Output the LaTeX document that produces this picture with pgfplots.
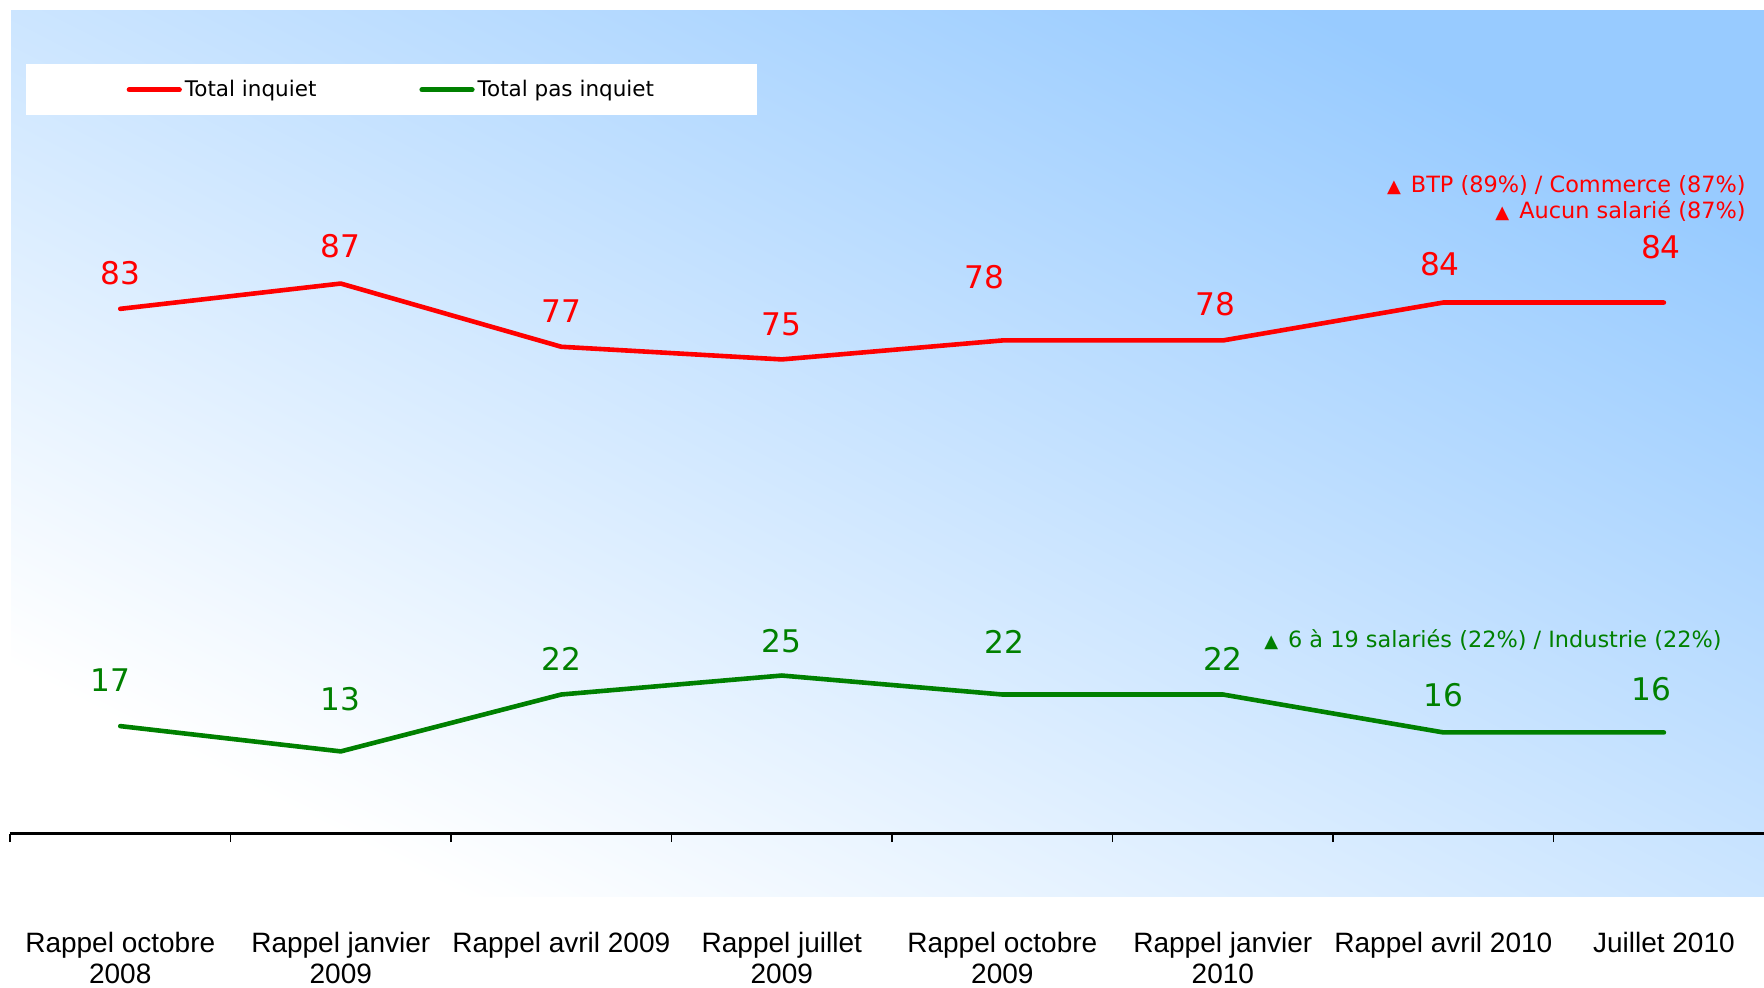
\documentclass[border=0pt]{standalone}
\usepackage{pgfplots}
\pgfplotsset{compat=1.18}
\usepackage{pgfplotstable}
\usepackage{fontspec}
\setmainfont{DejaVu Sans}
\newfontfamily\lab{Liberation Sans}
\definecolor{myred}{RGB}{255,0,0}
\definecolor{mygreen}{RGB}{0,128,0}
\definecolor{bgtop}{RGB}{152,203,255}

\pgfplotstableread{
x y dx dy
0 83 0 18
1 87 0 18.6
2 77 0 18
3 75 0 17.4
4 78 -9 31.5
5 78 -3.9 18
6 84 -1.7 19.1
7 84 -1.5 27.5
}\redtab
\pgfplotstableread{
x y dx dy
0 17 -4.8 23
1 13 0 25.9
2 22 0 18
3 25 0 17.4
4 22 1.1 26.4
5 22 0 18
6 16 0 18.6
7 16 -6.2 21.7
}\greentab

\begin{document}
\begin{tikzpicture}
\useasboundingbox (0,0) rectangle (882pt,494pt);
\shade[shading=axis, bottom color=white, top color=bgtop, shading angle=-27] (5.5pt,45.5pt) rectangle (882pt,488.5pt);
\begin{axis}[
  at={(5pt,77.2pt)}, anchor=south west,
  scale only axis, width=877pt, height=410.95pt,
  xmin=-0.5, xmax=7.454, ymin=0, ymax=130,
  clip=false,
  axis x line=bottom, axis y line=none,
  x axis line style={-, line width=1.1pt, black},
  xtick={0,...,7},
  xticklabels={{Rappel octobre\\2008},{Rappel janvier\\2009},{Rappel avril 2009},{Rappel juillet\\2009},{Rappel octobre\\2009},{Rappel janvier\\2010},{Rappel avril 2010},{Juillet 2010}},
  major tick length=0pt,
  minor xtick={-0.5,0.5,...,6.5},
  minor tick length=4.3pt,
  xtick align=outside,
  minor x tick style={line width=0.8pt, black},
  xticklabel style={font=\lab\fontsize{14}{15.75}\selectfont, align=center, anchor=north, inner sep=0pt, yshift=-49pt, text=black},
  /pgf/number format/assume math mode=true,
  legend columns=2,
  legend style={at={(axis description cs:0.0091,0.9364)}, anchor=north west, draw=none, fill=white,
    minimum width=365.5pt, minimum height=25.5pt, font=\fontsize{10.75}{12}\selectfont,
    nodes={minimum width=0pt, minimum height=0pt, inner sep=1.5pt},
    /tikz/every even column/.append style={column sep=50pt}},
  legend image code/.code={\draw[#1, line width=2.6pt, line cap=round] (0pt,0pt) -- (25pt,0pt);},
]
\addplot[myred, line width=2.3pt, line cap=round, line join=round, mark=none,
  nodes near coords, point meta=explicit,
  visualization depends on={\thisrow{dx} \as \dx},
  visualization depends on={\thisrow{dy} \as \dy},
  every node near coord/.append style={anchor=center, inner sep=0pt, xshift=\dx pt, yshift=\dy pt, font=\fontsize{15.6}{18}\selectfont, text=myred}]
  table[x=x, y=y, meta=y] {\redtab};
\addlegendentry{Total inquiet}
\addplot[mygreen, line width=2.3pt, line cap=round, line join=round, mark=none,
  nodes near coords, point meta=explicit,
  visualization depends on={\thisrow{dx} \as \dx},
  visualization depends on={\thisrow{dy} \as \dy},
  every node near coord/.append style={anchor=center, inner sep=0pt, xshift=\dx pt, yshift=\dy pt, font=\fontsize{15.6}{18}\selectfont, text=mygreen}]
  table[x=x, y=y, meta=y] {\greentab};
\addlegendentry{Total pas inquiet}
\end{axis}
\node[anchor=east, inner sep=0pt, text=myred, font=\fontsize{11.2}{13}\selectfont] at (873pt,401.2pt) {{\fontsize{9}{10}\selectfont ▲}\hspace{5pt}BTP (89\%) / Commerce (87\%)};
\node[anchor=east, inner sep=0pt, text=myred, font=\fontsize{11.2}{13}\selectfont] at (873pt,388.25pt) {{\fontsize{9}{10}\selectfont ▲}\hspace{5pt}Aucun salarié (87\%)};
\node[anchor=east, inner sep=0pt, text=mygreen, font=\fontsize{11.2}{13}\selectfont] at (861pt,173.9pt) {{\fontsize{9}{10}\selectfont ▲}\hspace{5pt}6 à 19 salariés (22\%) / Industrie (22\%)};
\end{tikzpicture}
\end{document}
